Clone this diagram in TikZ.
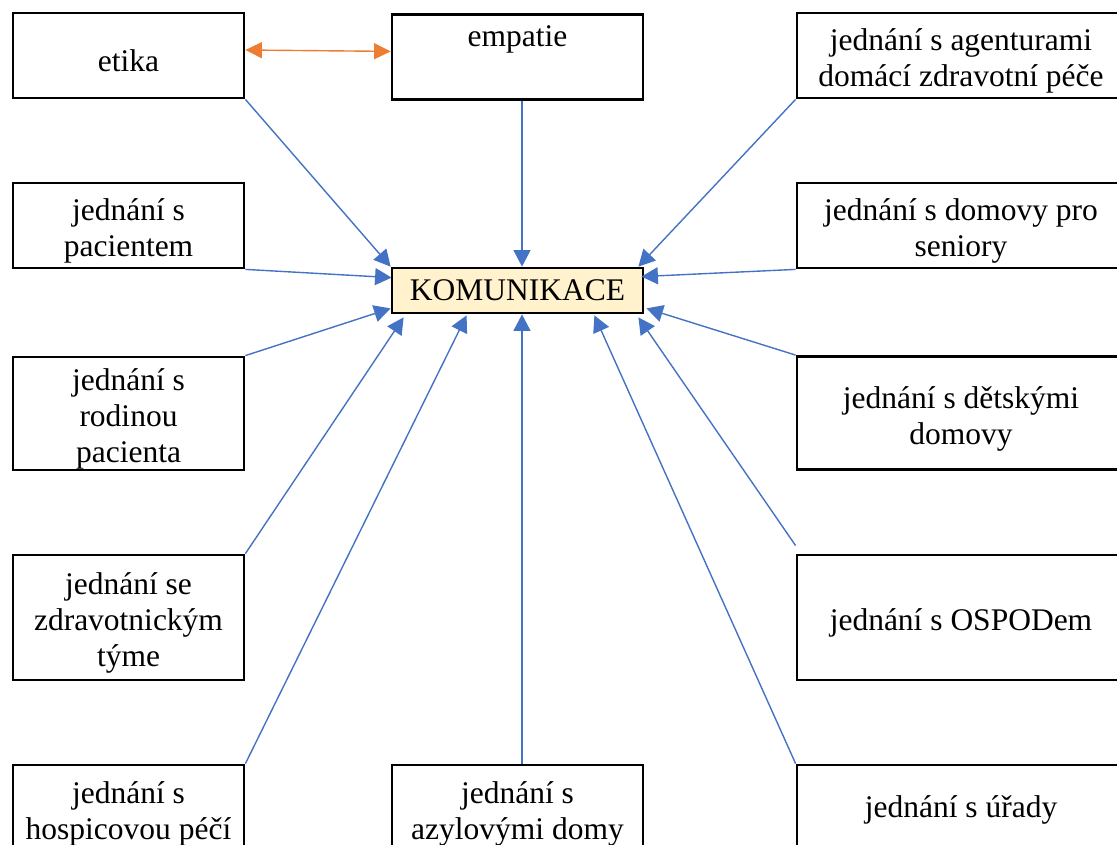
\documentclass[tikz,border=0pt]{standalone}
\usepackage{fontspec}
\setmainfont{Liberation Serif}
\usetikzlibrary{arrows.meta}
\definecolor{arrblue}{HTML}{4472C4}
\definecolor{arrorange}{HTML}{ED7D31}
\definecolor{komfill}{HTML}{FFF2CC}
\newcommand\txtdn{\rule{0pt}{33pt}}
\newcommand\txtdnb{\rule{0pt}{29pt}}
\begin{document}
\begin{tikzpicture}[x=1pt,y=-1pt,
  box/.style={draw=black, line width=2.8pt, align=center, font=\fontsize{31.5}{36}\selectfont, inner sep=0pt},
  lbox/.style={box, minimum width=231pt},
  mbox/.style={box, minimum width=251pt},
  rbox/.style={box, minimum width=328pt},
  conn/.style={draw=arrblue, line width=1.4pt, -{Triangle[length=16.5pt,width=17pt]}},
  biconn/.style={draw=arrorange, line width=1.4pt, {Triangle[length=16.5pt,width=16pt]}-{Triangle[length=16.5pt,width=16pt]}}
]
\useasboundingbox (0,0) rectangle (1117,845);
% left column
\node[lbox, minimum height=85pt] (etika) at (128.5,55.5) {\txtdn etika};
\node[lbox, minimum height=85pt] (pac) at (128.5,225.5) {\txtdn jednání s\\pacientem};
\node[lbox, minimum height=113pt] (rodina) at (128.5,413.5) {\txtdn jednání s\\rodinou\\pacienta};
\node[lbox, minimum height=125pt] (zdrav) at (128.5,617.5) {\txtdn jednání se\\zdravotnickým\\týme};
\node[lbox, minimum height=90pt] (hospic) at (128.5,810) {\txtdnb jednání s\\hospicovou péčí};
% middle column
\node[mbox, anchor=north, text height=32pt, text depth=53pt] (empatie) at (517.5,13) {empatie};
\node[mbox, minimum height=45pt, fill=komfill] (kom) at (517.5,290.5) {KOMUNIKACE};
\node[mbox, minimum height=90pt] (azyl) at (517.5,810) {\txtdnb jednání s\\azylovými domy};
% right column
\node[rbox, minimum height=85pt] (agent) at (961,55.5) {\txtdn jednání s agenturami\\domácí zdravotní péče};
\node[rbox, minimum height=85pt] (domovy) at (961,225.5) {\txtdn jednání s domovy pro\\seniory};
\node[rbox, minimum height=113pt] (detske) at (961,413) {\txtdn jednání s dětskými\\domovy};
\node[rbox, minimum height=125pt] (ospod) at (961,617.5) {\txtdn jednání s OSPODem};
\node[rbox, minimum height=90pt] (urady) at (961,810) {jednání s úřady};
% connectors
\draw[biconn] ([yshift=5.5pt]etika.east) -- ([yshift=5.5pt]empatie.west);
\draw[conn] (etika.south east) -- (kom.north west);
\draw[conn] ([xshift=4.5pt]empatie.south) -- ([xshift=4.5pt]kom.north);
\draw[conn] (agent.south west) -- ([xshift=-6pt]kom.north east);
\draw[conn] (pac.south east) -- ([xshift=1pt,yshift=-11pt]kom.north west);
\draw[conn] (domovy.south west) -- ([xshift=-3pt,yshift=-10pt]kom.north east);
\draw[conn] (rodina.north east) -- ([yshift=6pt]kom.south west);
\draw[conn] (detske.north west) -- ([xshift=2pt,yshift=6pt]kom.south east);
\draw[conn] (zdrav.north east) -- ([xshift=13pt,yshift=-3pt]kom.south west);
\draw[conn] ([yshift=8pt]ospod.north west) -- ([xshift=-6pt,yshift=-3pt]kom.south east);
\draw[conn] (hospic.north east) -- ([xshift=76pt,yshift=-1pt]kom.south west);
\draw[conn] ([xshift=4.5pt]azyl.north) -- ([xshift=4.5pt]kom.south);
\draw[conn] (urady.north west) -- ([xshift=-50pt,yshift=-1pt]kom.south east);
\end{tikzpicture}
\end{document}
